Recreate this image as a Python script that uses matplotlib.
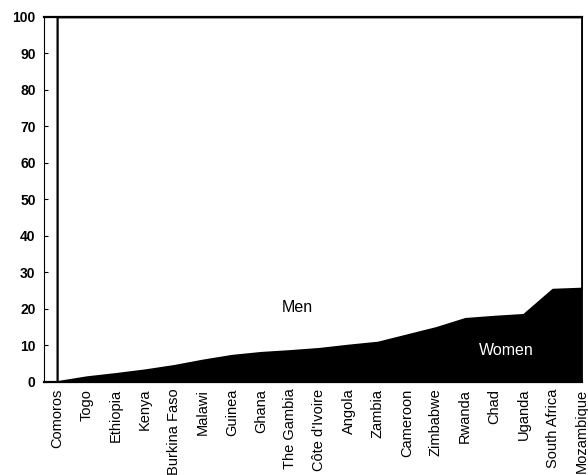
import numpy as np
from matplotlib import pyplot as plt

# countries ordered by women's share
countries = ["Comoros", "Togo", "Ethiopia", "Kenya", "Burkina Faso", "Malawi",
             "Guinea", "Ghana", "The Gambia", "Côte d'Ivoire", "Angola", "Zambia",
             "Cameroon", "Zimbabwe", "Rwanda", "Chad", "Uganda", "South Africa",
             "Mozambique"]
women = [0.0, 1.3, 2.2, 3.2, 4.4, 5.9, 7.2, 8.0, 8.5, 9.1, 10.0, 10.8,
         12.8, 14.8, 17.3, 17.9, 18.4, 25.3, 25.6]
men = [100 - w for w in women]
yticks = list(range(0, 101, 10))

plt.rcParams['font.family'] = ['Liberation Sans', 'DejaVu Sans']

fig = plt.figure(figsize=(5.88, 4.75), dpi=100)
ax = fig.add_axes([0.0748, 0.1964, 0.9145, 0.7684])

x = np.arange(len(countries))
total = np.array(women) + np.array(men)
# women share in black, men on top in white with outline
ax.fill_between(x, 0, women, facecolor='black', edgecolor='black', linewidth=1.0)
ax.fill_between(x, women, total, facecolor='white', edgecolor='black', linewidth=1.6)

ax.text(8.23, 20.4, "Men", ha='center', va='center', fontsize=11.5, color='black')
ax.text(15.4, 8.5, "Women", ha='center', va='center', fontsize=11.5, color='white')

ax.set_xlim(-0.45, len(countries) - 1)
ax.set_ylim(0, 100)
ax.set_yticks(yticks)
ax.set_yticklabels([str(t) for t in yticks], fontsize=10, fontweight='bold')
ax.set_xticks(x)
ax.set_xticklabels(countries, rotation=90, fontsize=10.5)
ax.tick_params(axis='x', length=0, pad=5)
ax.tick_params(axis='y', direction='in', length=3, width=0.8, pad=6)

ax.spines['left'].set_linewidth(0.8)
ax.spines['top'].set_linewidth(1.6)
ax.spines['right'].set_visible(False)
ax.spines['bottom'].set_linewidth(1.6)

fig.savefig("out.png", dpi=100)
